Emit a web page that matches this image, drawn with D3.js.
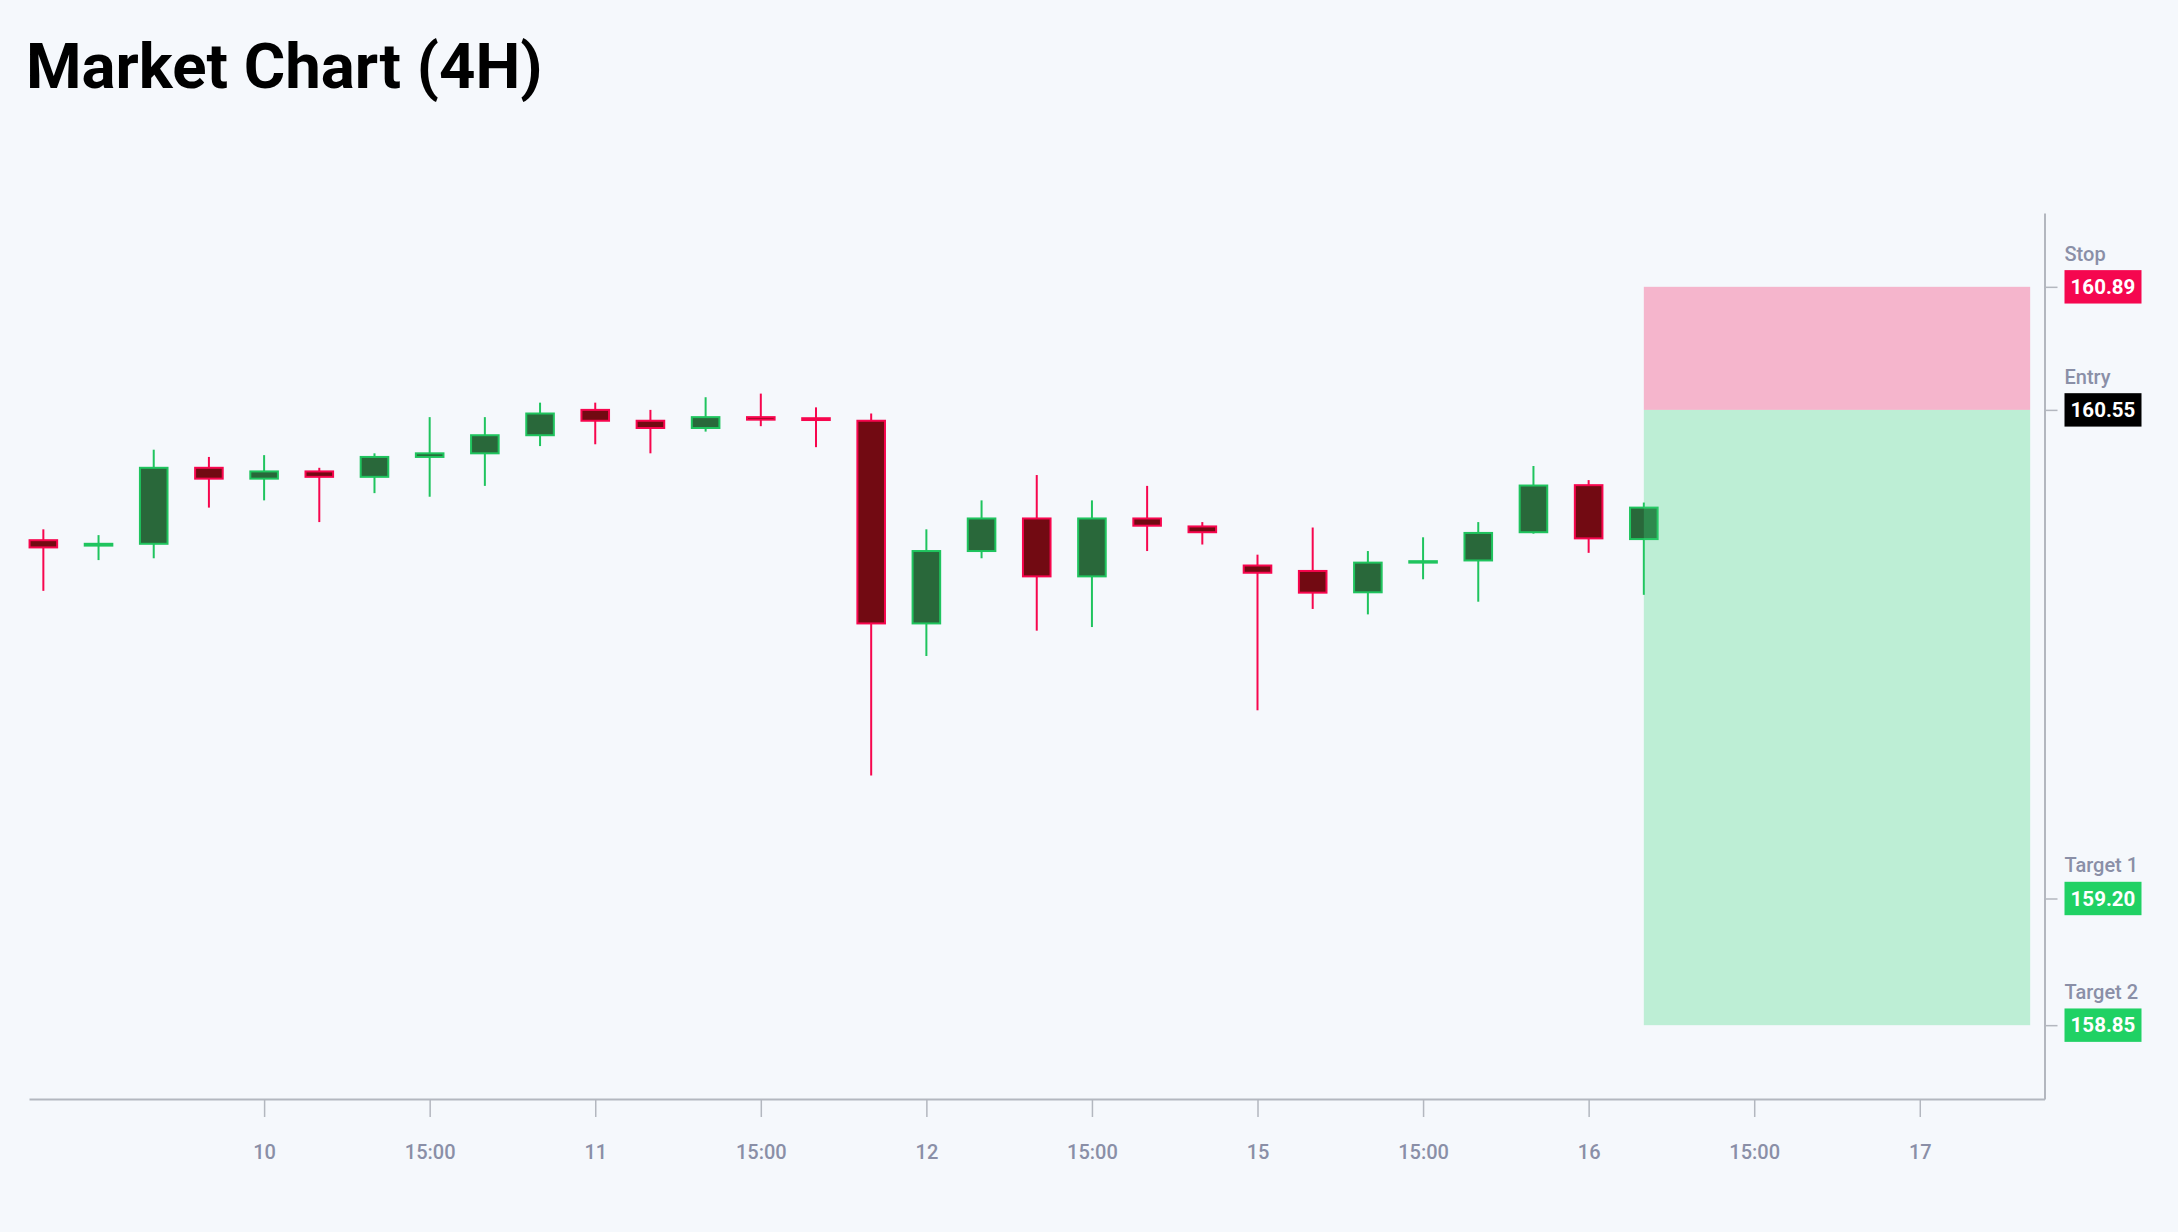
<!DOCTYPE html>
<html lang="en">
<head>
<meta charset="UTF-8">
<title>Market Chart (4H)</title>
<script src="https://d3js.org/d3.v7.min.js"></script>
<style>
    html, body { margin: 0; padding: 0; background: #f5f8fc; }
    svg { display: block; font-family: Roboto, "Noto Sans", sans-serif; }
    .axis path { stroke: #b3b7bf; stroke-width: 2; }
    .axis line { stroke: #b3b7bf; stroke-width: 1.5; }
    .axis text { fill: #8a8fa7; font-size: 20px; font-weight: 500; font-family: Roboto, sans-serif; }
    .level-name { fill: #8a8fa7; font-size: 20px; font-weight: 500; }
    .level-value { fill: #ffffff; font-size: 20.5px; font-weight: 700; }
</style>
</head>
<body>
<svg width="2178" height="1232"></svg>
<script>
// 4H candles, one per bar (weekend gap removed)
const opens  = [160.19, 160.175, 160.18, 160.39, 160.36, 160.38, 160.365, 160.42, 160.43, 160.48,
                160.55, 160.52, 160.50, 160.53, 160.527, 160.52, 159.96, 160.16, 160.25, 160.09,
                160.25, 160.228, 160.12, 160.105, 160.046, 160.128, 160.134, 160.212, 160.342, 160.193];
const highs  = [160.22, 160.204, 160.44, 160.42, 160.425, 160.39, 160.43, 160.53, 160.53, 160.57,
                160.57, 160.55, 160.585, 160.595, 160.557, 160.54, 160.22, 160.30, 160.37, 160.30,
                160.34, 160.24, 160.15, 160.225, 160.16, 160.198, 160.24, 160.395, 160.356, 160.294];
const lows   = [160.05, 160.135, 160.14, 160.28, 160.30, 160.24, 160.32, 160.31, 160.34, 160.45,
                160.455, 160.43, 160.49, 160.505, 160.447, 159.54, 159.87, 160.14, 159.94, 159.95,
                160.16, 160.178, 159.72, 160.00, 159.985, 160.082, 160.02, 160.208, 160.155, 160.039];
const closes = [160.17, 160.18, 160.39, 160.36, 160.38, 160.365, 160.42, 160.43, 160.48, 160.54,
                160.52, 160.50, 160.53, 160.523, 160.522, 159.96, 160.16, 160.25, 160.09, 160.25,
                160.23, 160.212, 160.10, 160.045, 160.128, 160.132, 160.21, 160.341, 160.195, 160.28];

// x-axis ticks: bar index -> label
const tickBars   = [4, 7, 10, 13, 16, 19, 22, 25, 28, 31, 34];
const tickLabels = ["10", "15:00", "11", "15:00", "12", "15:00", "15", "15:00", "16", "15:00", "17"];

// trade plan levels
const levelNames  = ["Stop", "Entry", "Target 1", "Target 2"];
const levelValues = [160.89, 160.55, 159.20, 158.85];
const levelColors = ["#f5074f", "#000000", "#20d164", "#20d164"];
const projectionBars = 7;  // width of the trade box, in bars

const upStroke = "#1fc45e", upFill = "#29683a";
const downStroke = "#f7064e", downFill = "#720a12";

const candles = opens.map((o, i) => ({ i: i, o: o, h: highs[i], l: lows[i], c: closes[i] }));
const lastBar = candles.length - 1;

const svg = d3.select("svg"),
    margin = { top: 213, right: 133.5, bottom: 133, left: 29 },
    width = +svg.attr("width") - margin.left - margin.right,
    height = +svg.attr("height") - margin.top - margin.bottom;

// title
svg.append("text")
    .attr("x", 26)
    .attr("y", 88)
    .attr("font-size", 63.5)
    .attr("font-weight", 700)
    .attr("fill", "#000")
    .text("Market Chart (4H)");

const g = svg.append("g").attr("transform", `translate(${margin.left},${margin.top})`);

const x = d3.scaleLinear()
    .domain([-0.26, lastBar + projectionBars + 0.26])
    .range([0, width]);

const lvMin = d3.min(levelValues), lvMax = d3.max(levelValues);
const pad = (lvMax - lvMin) * 0.1;
const y = d3.scaleLinear()
    .domain([lvMin - pad, lvMax + pad])
    .range([height, 0]);

const step = x(1) - x(0);
const bodyW = step * 0.5;

// candles
const cg = g.append("g");
cg.selectAll(".wick")
    .data(candles)
    .join("line")
    .attr("class", "wick")
    .attr("x1", d => x(d.i)).attr("x2", d => x(d.i))
    .attr("y1", d => y(d.h)).attr("y2", d => y(d.l))
    .attr("stroke", d => d.c >= d.o ? upStroke : downStroke)
    .attr("stroke-width", 2);

cg.selectAll(".body")
    .data(candles)
    .join("rect")
    .attr("class", "body")
    .attr("x", d => x(d.i) - bodyW / 2)
    .attr("width", bodyW)
    .attr("y", d => y(Math.max(d.o, d.c)))
    .attr("height", d => Math.max(1, Math.abs(y(d.o) - y(d.c))))
    .attr("fill", d => d.c >= d.o ? upFill : downFill)
    .attr("stroke", d => d.c >= d.o ? upStroke : downStroke)
    .attr("stroke-width", 2);

// trade box: risk (stop..entry) and reward (entry..target 2)
const bx0 = x(lastBar), bx1 = x(lastBar + projectionBars);
g.append("rect")
    .attr("x", bx0).attr("width", bx1 - bx0)
    .attr("y", y(levelValues[0]))
    .attr("height", y(levelValues[1]) - y(levelValues[0]))
    .attr("fill", "rgba(245,25,92,0.3)");
g.append("rect")
    .attr("x", bx0).attr("width", bx1 - bx0)
    .attr("y", y(levelValues[1]))
    .attr("height", y(levelValues[3]) - y(levelValues[1]))
    .attr("fill", "rgba(58,214,122,0.3)");

// axes
g.append("g")
    .attr("class", "axis")
    .attr("transform", `translate(0,${height})`)
    .call(d3.axisBottom(x)
        .tickValues(tickBars)
        .tickFormat((d, i) => tickLabels[i])
        .tickSize(18)
        .tickSizeOuter(0)
        .tickPadding(28));

g.append("g")
    .attr("class", "axis")
    .attr("transform", `translate(${width},0)`)
    .call(d3.axisRight(y)
        .tickValues(levelValues)
        .tickFormat("")
        .tickSize(13)
        .tickSizeOuter(0));

// level labels on the right
const lg = g.selectAll(".level")
    .data(levelValues)
    .join("g")
    .attr("class", "level")
    .attr("transform", d => `translate(${width + 20},${y(d)})`);

lg.append("text")
    .attr("class", "level-name")
    .attr("y", -26)
    .text((d, i) => levelNames[i]);

lg.append("rect")
    .attr("y", -16.7)
    .attr("width", 77)
    .attr("height", 33.4)
    .attr("fill", (d, i) => levelColors[i]);

lg.append("text")
    .attr("class", "level-value")
    .attr("x", 38.5)
    .attr("dy", "0.35em")
    .attr("text-anchor", "middle")
    .text(d => d.toFixed(2));
</script>
</body>
</html>
